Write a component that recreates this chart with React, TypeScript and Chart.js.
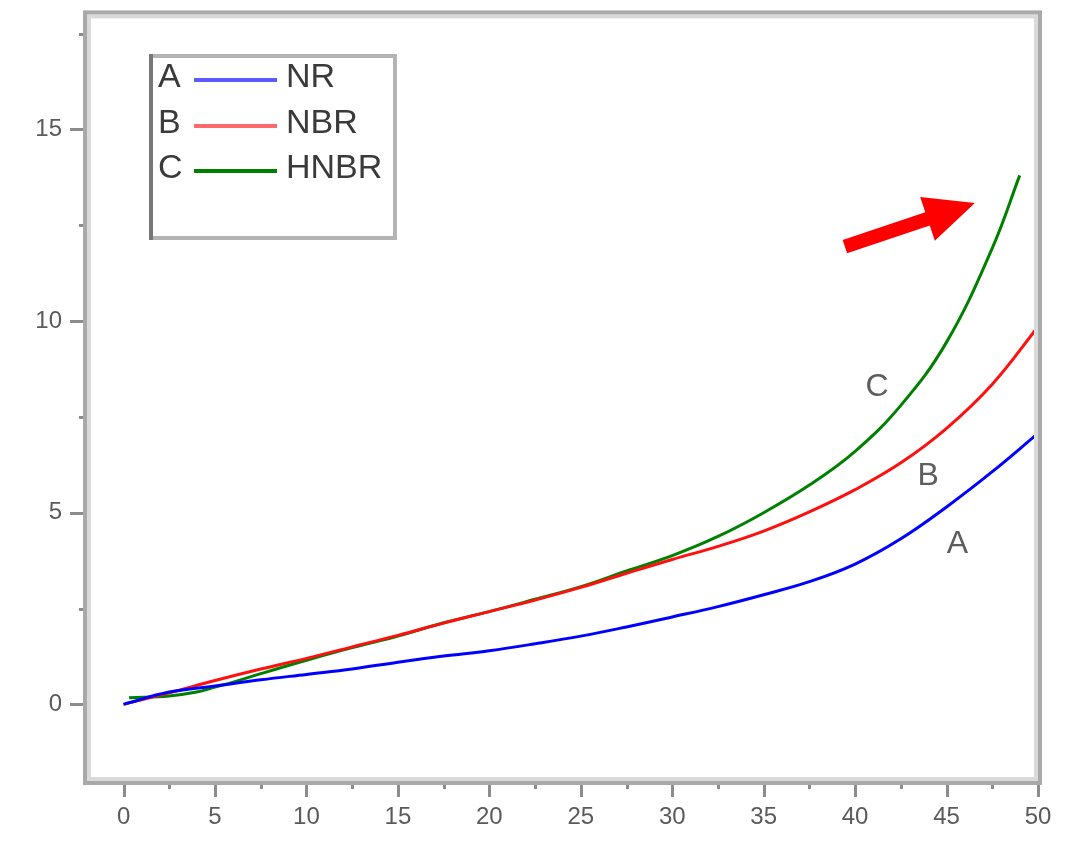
import React, { useEffect, useRef } from 'react';
import { Chart, registerables } from 'chart.js';

Chart.register(...registerables);

// ---- data ----
const seriesLetters = ['A', 'B', 'C'];
const seriesNames = ['NR', 'NBR', 'HNBR'];
const seriesColors = ['#0000ff', '#ff1010', '#008000'];
const legendLineColors = ['#5a5aff', '#ff6a6a', '#008000'];

const xNR = [0, 2.5, 5, 7.5, 10, 12.5, 15, 17.5, 20, 22.5, 25, 27.5, 30, 32.5, 35, 37.5, 40, 42.5, 45, 47.5, 50];
const yNR = [0, 0.32, 0.48, 0.64, 0.78, 0.92, 1.1, 1.26, 1.4, 1.58, 1.78, 2.02, 2.28, 2.55, 2.86, 3.2, 3.66, 4.32, 5.15, 6.07, 7.07];

const xNBR = [0, 2.5, 5, 7.5, 10, 12.5, 15, 17.5, 20, 22.5, 25, 27.5, 30, 32.5, 35, 37.5, 40, 42.5, 45, 47.5, 50];
const yNBR = [0, 0.3, 0.62, 0.92, 1.2, 1.5, 1.8, 2.12, 2.42, 2.72, 3.05, 3.42, 3.78, 4.12, 4.52, 5.02, 5.6, 6.3, 7.2, 8.35, 9.85];

const xHNBR = [0.3, 2.5, 4, 5, 6, 7.5, 10, 12.5, 15, 17.5, 20, 22.5, 25, 27.5, 30, 32.5, 35, 37.5, 40, 42.5, 45, 47.5, 49];
const yHNBR = [0.17, 0.22, 0.32, 0.45, 0.58, 0.8, 1.15, 1.48, 1.78, 2.13, 2.42, 2.74, 3.07, 3.48, 3.88, 4.38, 5.0, 5.72, 6.6, 7.8, 9.45, 11.9, 13.8];

const xTicks = [0, 5, 10, 15, 20, 25, 30, 35, 40, 45, 50];
const xMinorTicks = [2.5, 7.5, 12.5, 17.5, 22.5, 27.5, 32.5, 37.5, 42.5, 47.5];
const yTicks = [0, 5, 10, 15];
const yMinorTicks = [2.5, 7.5, 12.5, 17.5];

// curve annotation labels (data coordinates)
const curveLabelX = [45.6, 44.0, 41.2];
const curveLabelY = [4.18, 5.94, 8.28];

// arrow annotation (data coordinates): tail -> tip
const arrowTail = [39.44, 11.94];
const arrowTip = [46.55, 13.08];

const FONT = '"Liberation Sans", Arial, sans-serif';

const toPoints = (xs: number[], ys: number[]) => xs.map((x, i) => ({ x, y: ys[i] }));

const decorPlugin = {
  id: 'decor',
  afterDatasetsDraw(chart: any) {
    const ctx = chart.ctx as CanvasRenderingContext2D;
    const { left, right, top, bottom } = chart.chartArea;
    const xs = chart.scales.x;
    const ys = chart.scales.y;
    ctx.save();

    // ticks (outward)
    ctx.strokeStyle = '#8c8c8c';
    ctx.lineWidth = 3;
    const tickX = (v: number, len: number) => {
      const px = Math.round(xs.getPixelForValue(v)) + 0.5;
      ctx.beginPath();
      ctx.moveTo(px, bottom);
      ctx.lineTo(px, bottom + len);
      ctx.stroke();
    };
    const tickY = (v: number, len: number) => {
      const py = Math.round(ys.getPixelForValue(v)) + 0.5;
      ctx.beginPath();
      ctx.moveTo(left, py);
      ctx.lineTo(left - len, py);
      ctx.stroke();
    };
    xTicks.forEach((v) => tickX(v, 16));
    xMinorTicks.forEach((v) => tickX(v, 8));
    yTicks.forEach((v) => tickY(v, 17));
    yMinorTicks.forEach((v) => tickY(v, 8));

    // frame: dark outside, light inside
    ctx.lineWidth = 4;
    ctx.strokeStyle = '#dadada';
    ctx.strokeRect(left + 2, top + 2, right - left - 4, bottom - top - 4);
    ctx.strokeStyle = '#a9a9a9';
    ctx.strokeRect(left - 2, top - 2, right - left + 4, bottom - top + 4);

    // legend box
    const bx = 149, by = 54, bw = 248, bh = 186;
    ctx.lineWidth = 4;
    ctx.strokeStyle = '#b4b4b4';
    ctx.strokeRect(bx + 2, by + 2, bw - 4, bh - 4);
    ctx.strokeStyle = '#777777';
    ctx.beginPath();
    ctx.moveTo(bx + 2, by);
    ctx.lineTo(bx + 2, by + bh);
    ctx.stroke();

    const rowY = [78, 124, 169];
    ctx.font = `34px ${FONT}`;
    ctx.textBaseline = 'middle';
    ctx.textAlign = 'left';
    seriesLetters.forEach((letter, i) => {
      ctx.fillStyle = '#3a3a3a';
      ctx.fillText(letter, 158, rowY[i]);
      ctx.fillText(seriesNames[i], 286, rowY[i]);
      ctx.strokeStyle = legendLineColors[i];
      ctx.lineWidth = 4;
      ctx.beginPath();
      ctx.moveTo(194, rowY[i] + 2);
      ctx.lineTo(277, rowY[i] + 2);
      ctx.stroke();
    });

    // curve labels
    ctx.font = `32px ${FONT}`;
    ctx.fillStyle = '#5e5e5e';
    ctx.textAlign = 'center';
    seriesLetters.forEach((letter, i) => {
      ctx.fillText(letter, xs.getPixelForValue(curveLabelX[i]), ys.getPixelForValue(curveLabelY[i]));
    });

    // arrow
    const tx = xs.getPixelForValue(arrowTail[0]);
    const ty = ys.getPixelForValue(arrowTail[1]);
    const hx = xs.getPixelForValue(arrowTip[0]);
    const hy = ys.getPixelForValue(arrowTip[1]);
    const ang = Math.atan2(hy - ty, hx - tx);
    const len = Math.hypot(hx - tx, hy - ty);
    const headLen = 50, headW = 46, shaftW = 14;
    ctx.translate(tx, ty);
    ctx.rotate(ang);
    ctx.fillStyle = '#ff0000';
    ctx.beginPath();
    ctx.moveTo(0, -shaftW / 2);
    ctx.lineTo(len - headLen, -shaftW / 2);
    ctx.lineTo(len - headLen, -headW / 2);
    ctx.lineTo(len, 0);
    ctx.lineTo(len - headLen, headW / 2);
    ctx.lineTo(len - headLen, shaftW / 2);
    ctx.lineTo(0, shaftW / 2);
    ctx.closePath();
    ctx.fill();

    ctx.restore();
  },
};

export default function App() {
  const ref = useRef<HTMLCanvasElement | null>(null);
  useEffect(() => {
    if (!ref.current) return;
    const xs = [xNR, xNBR, xHNBR];
    const ysArr = [yNR, yNBR, yHNBR];
    const chart = new Chart(ref.current, {
      type: 'line',
      data: {
        datasets: seriesNames.map((name, i) => ({
          label: name,
          data: toPoints(xs[i], ysArr[i]),
          borderColor: seriesColors[i],
          backgroundColor: seriesColors[i],
          borderWidth: 3,
          pointRadius: 0,
          tension: 0.4,
          fill: false,
        })),
      },
      options: {
        animation: false,
        responsive: false,
        layout: { padding: { top: 14, right: 38, left: 0, bottom: 0 } },
        plugins: { legend: { display: false }, tooltip: { enabled: false } },
        scales: {
          x: {
            type: 'linear',
            min: -2,
            max: 50,
            grid: { display: true, drawOnChartArea: false, drawTicks: true, tickLength: 22, tickColor: 'rgba(0,0,0,0)' },
            border: { display: false },
            afterBuildTicks: (scale: any) => {
              scale.ticks = xTicks.map((v) => ({ value: v }));
            },
            afterFit: (scale: any) => {
              scale.height = 62;
            },
            ticks: {
              color: '#5a5a5a',
              padding: 0,
              maxRotation: 0,
              font: { family: FONT, size: 24 },
              callback: (v: any) => String(v),
            },
          },
          y: {
            type: 'linear',
            min: -2,
            max: 18,
            grid: { display: true, drawOnChartArea: false, drawTicks: true, tickLength: 25, tickColor: 'rgba(0,0,0,0)' },
            border: { display: false },
            afterBuildTicks: (scale: any) => {
              scale.ticks = yTicks.map((v) => ({ value: v }));
            },
            afterFit: (scale: any) => {
              scale.width = 87;
            },
            ticks: {
              color: '#5a5a5a',
              padding: 0,
              font: { family: FONT, size: 24 },
              callback: (v: any) => String(v),
            },
          },
        },
      },
      plugins: [decorPlugin],
    });
    return () => chart.destroy();
  }, []);

  return (
    <div style={{ position: 'fixed', left: 0, top: 0, width: 1076, height: 843, background: '#ffffff' }}>
      <canvas ref={ref} width={1076} height={843} style={{ width: 1076, height: 843, display: 'block' }} />
    </div>
  );
}
